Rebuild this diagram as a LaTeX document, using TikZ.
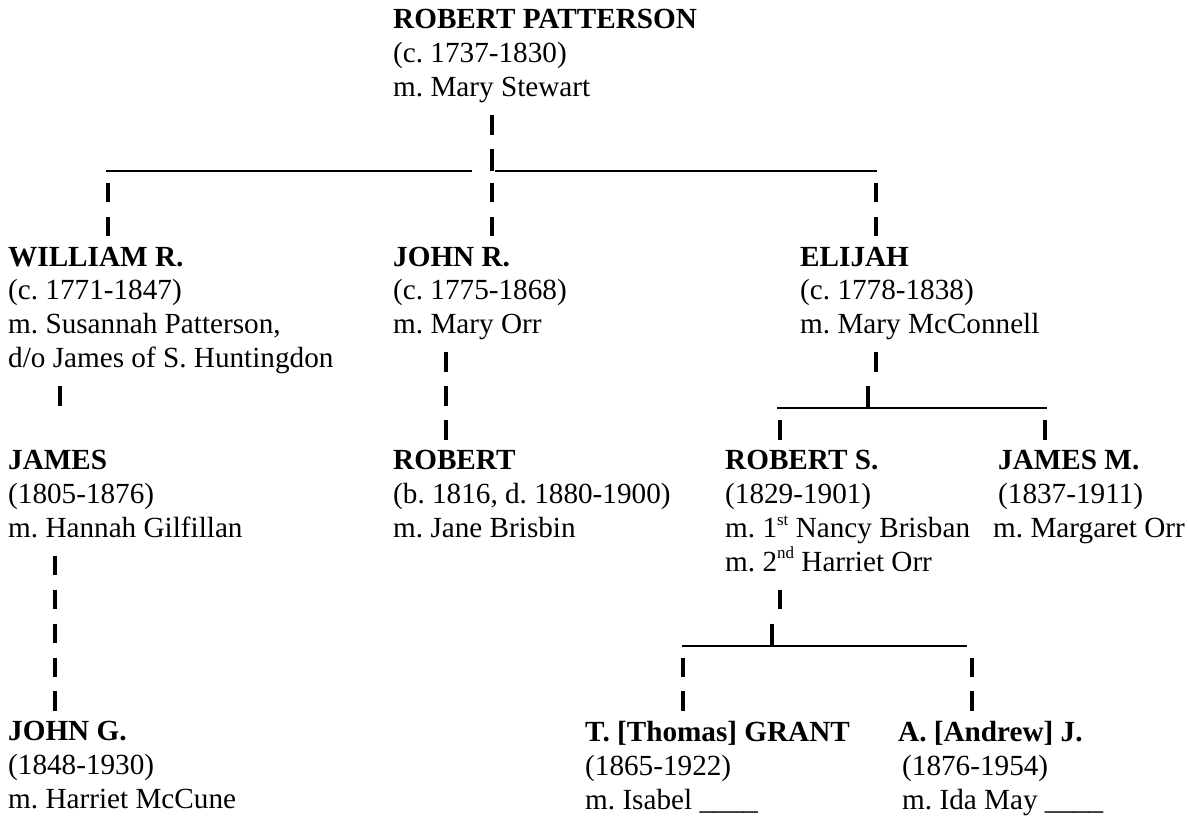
\documentclass[tikz,border=0pt]{standalone}
\usepackage{fontspec}
\setmainfont{Liberation Serif}
\usepackage{tikz}
\usetikzlibrary{calc}
\frenchspacing
\newcommand{\supx}[1]{\raisebox{0.42em}{\fontsize{17}{17}\selectfont #1}}

\tikzset{
    person/.style={align=left, anchor=north west, inner sep=0pt, font=\fontsize{29.2}{33.9}\selectfont, execute at begin node=\strut},
    bars/.style={line width=3.2pt, dash pattern=on 19.5pt off 14.4pt},
    rule/.style={line width=2pt}
}

\begin{document}
\begin{tikzpicture}[x=1pt, y=-33.9pt]
        \useasboundingbox (0,-0.973) rectangle (1188,23.097);
        \fill[white] (0,-0.973) rectangle (1188,23.097);
        \node[person] (rp) at (393,-0.7) {\textbf{ROBERT PATTERSON}\\(c. 1737-1830)\\m. Mary Stewart};
        \node[person] (wr) at (8,6.3) {\textbf{WILLIAM R.}\\(c. 1771-1847)\\m. Susannah Patterson,\\d/o James of S. Huntingdon};
        \node[person] (jr) at (393,6.3) {\textbf{JOHN R.}\\(c. 1775-1868)\\m. Mary Orr};
        \node[person] (el) at (800,6.3) {\textbf{ELIJAH}\\(c. 1778-1838)\\m. Mary McConnell};
        \node[person] (ja) at (8,12.3) {\textbf{JAMES}\\(1805-1876)\\m. Hannah Gilfillan};
        \node[person] (rb) at (393,12.3) {\textbf{ROBERT}\\(b. 1816, d. 1880-1900)\\m. Jane Brisbin};
        \node[person] (rs) at (725,12.3) {\textbf{ROBERT S.}\\(1829-1901)\\m. 1\supx{st} Nancy Brisban\\m. 2\supx{nd} Harriet Orr};
        \node[person] (jm) at (998,12.3) {\textbf{JAMES M.}\\(1837-1911)\\\hspace*{-5pt}m. Margaret Orr};
        \node[person] (jg) at (8,20.3) {\textbf{JOHN G.}\\(1848-1930)\\m. Harriet McCune};
        \node[person] (tg) at (585,20.3) {\textbf{T. [Thomas] GRANT}\\(1865-1922)\\m. Isabel \_\_\_\_};
        \node[person] (aj) at (898,20.3) {\textbf{A. [Andrew] J.}\\\hspace*{4pt}(1876-1954)\\\hspace*{4pt}m. Ida May \_\_\_\_};

        \coordinate (rp-d) at (492,2.425);
        \coordinate (jr-u) at (492,6);
        \coordinate (wr-t) at (108,4.425);
        \coordinate (wr-u) at (108,6);
        \coordinate (el-t) at (876,4.425);
        \coordinate (el-u) at (876,6);
        \coordinate (h1a) at (106,4.074);
        \coordinate (h1b) at (472,4.074);
        \coordinate (h1c) at (495,4.074);
        \coordinate (h1d) at (877,4.074);
        \draw[bars] (rp-d) -- (jr-u);
        \draw[line width=3.2pt] (492,3.425) -- (492,4.074);
        \draw[rule] (h1a) -- (h1b) (h1c) -- (h1d);
        \draw[bars] (wr-t) -- (wr-u);
        \draw[bars] (el-t) -- (el-u);

        \coordinate (wr-d) at (60,10.425);
        \coordinate (ja-u) at (60,11);
        \draw[bars] (wr-d) -- (ja-u);
        \coordinate (jr-d) at (446,9.425);
        \coordinate (rb-u) at (446,12);
        \draw[bars] (jr-d) -- (rb-u);

        \coordinate (el-d) at (876,9.425);
        \coordinate (el-e) at (876,10);
        \coordinate (j2) at (868,10.425);
        \coordinate (j2b) at (868,11.074);
        \coordinate (h2a) at (777,11.074);
        \coordinate (h2b) at (1047,11.074);
        \coordinate (rs-t) at (780,11.425);
        \coordinate (rs-u) at (780,12);
        \coordinate (jm-t) at (1045,11.425);
        \coordinate (jm-u) at (1045,12);
        \draw[bars] (el-d) -- (el-e);
        \draw[line width=3.2pt] (j2) -- (j2b);
        \draw[rule] (h2a) -- (h2b);
        \draw[bars] (rs-t) -- (rs-u);
        \draw[bars] (jm-t) -- (jm-u);

        \coordinate (ja-d) at (55,15.425);
        \coordinate (jg-u) at (55,20);
        \draw[bars] (ja-d) -- (jg-u);

        \coordinate (rs-d) at (780,16.425);
        \coordinate (rs-e) at (780,17);
        \coordinate (j3) at (772,17.425);
        \coordinate (j3b) at (772,18.074);
        \coordinate (h3a) at (682,18.074);
        \coordinate (h3b) at (967,18.074);
        \coordinate (tg-t) at (683,18.425);
        \coordinate (tg-u) at (683,20);
        \coordinate (aj-t) at (972,18.425);
        \coordinate (aj-u) at (972,20);
        \draw[bars] (rs-d) -- (rs-e);
        \draw[line width=3.2pt] (j3) -- (j3b);
        \draw[rule] (h3a) -- (h3b);
        \draw[bars] (tg-t) -- (tg-u);
        \draw[bars] (aj-t) -- (aj-u);
\end{tikzpicture}
\end{document}
